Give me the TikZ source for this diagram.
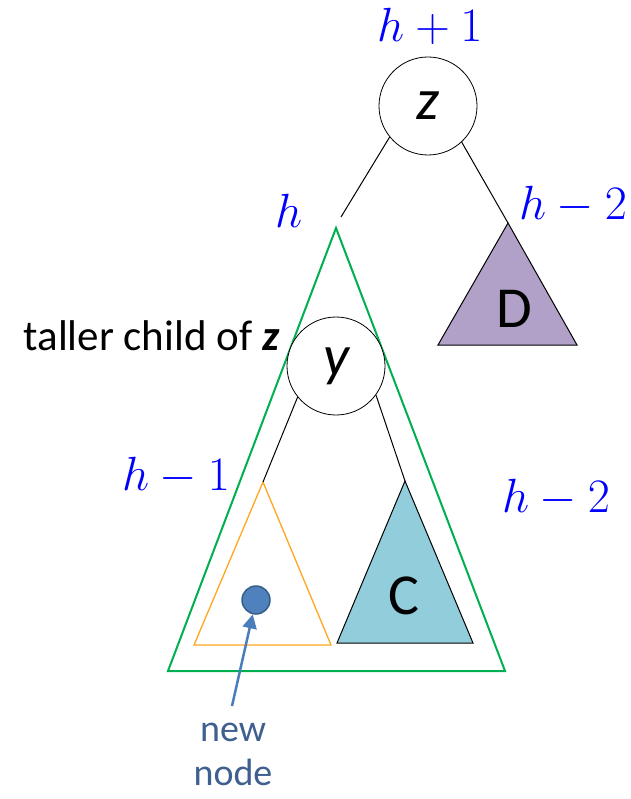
\RequirePackage{fix-cm}
\documentclass[tikz,border=0pt]{standalone}
\usepackage{fontspec}
\setmainfont{Carlito}
\usepackage{xcolor}
\usetikzlibrary{arrows.meta}
\definecolor{AVLGreen}{HTML}{00B050}
\definecolor{AVLOrange}{HTML}{FFA61F}
\definecolor{AVLPurple}{HTML}{B1A0C7}
\definecolor{AVLAqua}{HTML}{92CDDC}
\definecolor{AVLBlue}{HTML}{0000FF}
\definecolor{AVLDot}{HTML}{4F81BD}
\definecolor{AVLDotLine}{HTML}{385D8A}
\definecolor{AVLArrow}{HTML}{4A7EBB}
\definecolor{AVLLabel}{HTML}{3F5F8F}

\begin{document}
\begin{tikzpicture}[x=1pt,y=-1pt,
  vertex/.style={draw,circle,fill=white,minimum size=98pt,inner sep=0pt,line width=0.8pt,font=\fontsize{58}{64}\selectfont\itshape},
  height/.style={text=AVLBlue,font=\fontsize{48}{54}\selectfont},
  subtree/.style={font=\fontsize{58}{64}\selectfont},
  edge/.style={line width=1pt}]
\path[use as bounding box] (0,0) rectangle (630,799);
% apexes of the subtrees
\coordinate (Btop) at (336,228);
\coordinate (Dtop) at (508,223);
\coordinate (Atop) at (263,482);
\coordinate (Ctop) at (405,481);
\coordinate (zleft) at (341,217);
% subtree rooted at y
\draw[AVLGreen,line width=2pt] (Btop) -- (168,671) -- (505,671) -- cycle;
\draw[AVLOrange,line width=1.3pt] (Atop) -- (194,645) -- (331,645) -- cycle;
\filldraw[fill=AVLAqua,edge] (Ctop) -- (337,643) -- (473,643) -- cycle;
\node[subtree] (C) at (404,596) {C};
% right subtree of z
\filldraw[fill=AVLPurple,edge] (Dtop) -- (438,345) -- (577,345) -- cycle;
\node[subtree] (D) at (514,309) {D};
% vertices
\node[vertex] (z) at (428,106) {z};
\node[vertex] (y) at (336,366) {y};
\draw[edge] (z.219) -- (zleft);
\draw[edge] (z.313) -- (Dtop);
\draw[edge] (y.219) -- (Atop);
\draw[edge] (y.324) -- (Ctop);
% heights
\node[height] (hz) at (430,26) {$h+1$};
\node[height] (hy) at (289,211) {$h$};
\node[height] (hD) at (573,205) {$h-2$};
\node[height] (hA) at (176,476) {$h-1$};
\node[height] (hB) at (556,498) {$h-2$};
\node[anchor=base west,font=\fontsize{43}{50}\selectfont] (taller) at (20,350) {taller child of \textbf{\textit{z}}};
% inserted node
\node[circle,fill=AVLDot,draw=AVLDotLine,line width=1.5pt,minimum size=28pt,inner sep=0pt] (new) at (256,600) {};
\node[text=AVLLabel,font=\fontsize{38}{44}\selectfont,align=center,anchor=north] (newlbl) at (233,720) {new\\node};
\coordinate (tail) at (232,706);
\draw[AVLArrow,line width=2.5pt,-{Triangle[length=14pt,width=14pt]}] (tail) -- (new);
\end{tikzpicture}
\end{document}
